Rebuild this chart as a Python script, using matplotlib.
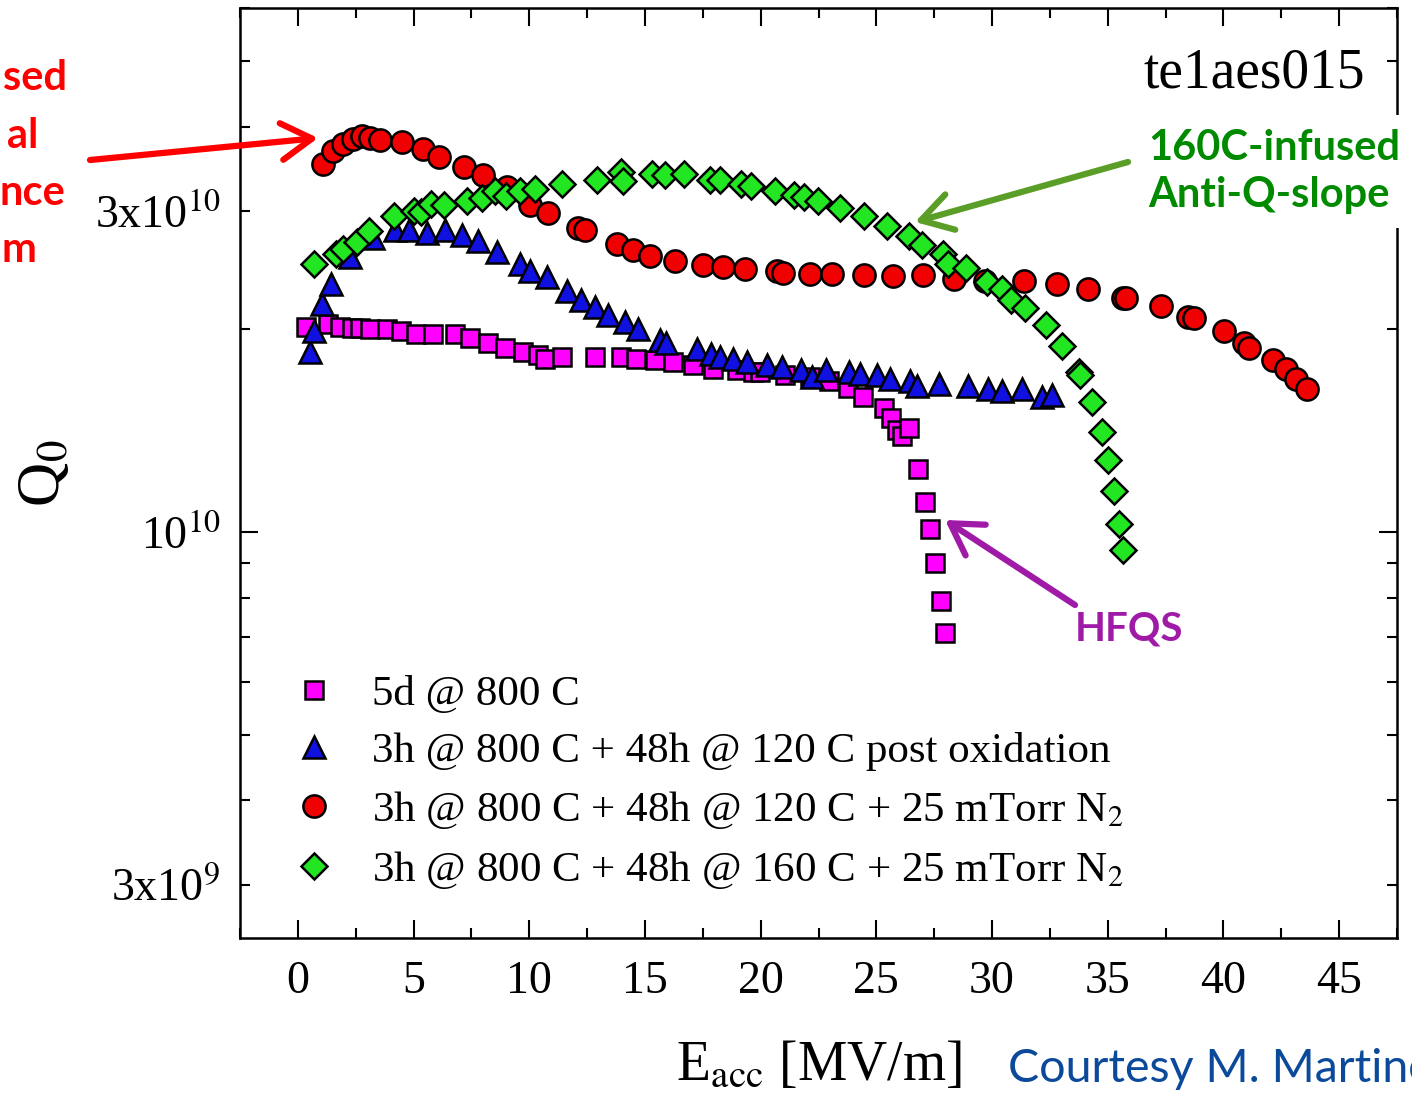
"""Q0 vs Eacc for te1aes015 after different furnace / infusion treatments."""

import matplotlib
matplotlib.use("Agg")
import matplotlib.pyplot as plt
from matplotlib.patches import FancyArrowPatch
from matplotlib.ticker import FixedLocator, FuncFormatter, LogLocator, MultipleLocator

# ---- data (Eacc in MV/m, Q0 in units of 1e10) ----
sq_e = [0.35, 1.30, 1.82, 2.34, 2.68, 3.11, 3.85, 4.46, 5.10, 5.84, 6.79, 7.44, 8.22, 8.95,
        9.73, 10.38, 10.68, 11.42, 12.85, 13.97, 14.62, 15.44, 16.22, 17.08, 17.95, 18.99,
        19.68, 19.98, 21.06, 22.15, 22.97, 23.79, 24.44, 25.35, 25.65, 25.91, 26.12, 26.43,
        26.82, 27.12, 27.34, 27.55, 27.81, 27.98]
sq_q = [2.02, 2.04, 2.02, 2.01, 2.01, 2.00, 2.00, 1.99, 1.97, 1.97, 1.97, 1.94, 1.91, 1.88,
        1.85, 1.83, 1.81, 1.82, 1.82, 1.82, 1.81, 1.80, 1.79, 1.77, 1.75, 1.74,
        1.73, 1.73, 1.71, 1.70, 1.68, 1.64, 1.59, 1.53, 1.48, 1.42, 1.39, 1.43,
        1.24, 1.11, 1.01, 0.90, 0.79, 0.71]

tri_e = [0.52, 0.69, 1.04, 1.43, 2.25, 3.24, 4.20, 4.80, 5.58, 6.36, 7.09, 7.79, 8.61, 9.60,
         10.03, 10.77, 11.63, 12.24, 12.85, 13.41, 14.14, 14.71, 15.66, 15.92, 17.26, 17.86,
         18.25, 18.81, 19.42, 20.28, 20.93, 21.76, 22.23, 22.84, 23.83, 24.31, 25.04, 25.61,
         26.47, 26.77, 27.72, 28.94, 29.84, 30.41, 31.31, 32.18, 32.57]
tri_q = [1.85, 1.99, 2.18, 2.34, 2.56, 2.73, 2.81, 2.81, 2.78, 2.81, 2.76, 2.71, 2.61, 2.50,
         2.44, 2.39, 2.28, 2.21, 2.16, 2.10, 2.05, 2.00, 1.93, 1.91, 1.87, 1.84,
         1.82, 1.81, 1.79, 1.77, 1.76, 1.74, 1.70, 1.74, 1.73, 1.72, 1.71, 1.69,
         1.68, 1.65, 1.66, 1.65, 1.63, 1.62, 1.63, 1.59, 1.60]

circ_e = [1.07, 1.53, 1.93, 2.37, 2.76, 3.11, 3.55, 4.49, 5.42, 6.11, 7.18, 8.01, 9.03, 10.03,
          10.83, 12.12, 12.41, 13.80, 14.49, 15.22, 16.31, 17.52, 18.38, 19.33, 20.72, 20.98,
          22.15, 23.10, 24.48, 25.74, 27.03, 28.37, 29.71, 31.40, 32.79, 34.13, 35.64, 35.77,
          37.29, 38.45, 38.71, 40.01, 40.87, 41.09, 42.13, 42.69, 43.12, 43.60]
circ_q = [3.52, 3.68, 3.77, 3.83, 3.87, 3.85, 3.82, 3.79, 3.70, 3.60, 3.48, 3.39, 3.26, 3.06,
          2.98, 2.83, 2.81, 2.68, 2.62, 2.57, 2.53, 2.49, 2.48, 2.46, 2.44, 2.43,
          2.42, 2.42, 2.41, 2.40, 2.41, 2.38, 2.36, 2.36, 2.34, 2.30, 2.23, 2.23,
          2.17, 2.09, 2.08, 1.99, 1.91, 1.88, 1.80, 1.75, 1.69, 1.63]

dia_e = [0.69, 1.64, 1.95, 2.55, 3.07, 4.15, 5.02, 5.32, 5.75, 6.31, 7.31, 7.96, 8.52, 9.00,
         9.60, 10.25, 11.42, 12.93, 13.97, 14.06, 15.31, 15.87, 16.70, 17.82, 18.25, 19.16,
         19.59, 20.63, 21.45, 21.89, 22.49, 23.44, 24.48, 25.48, 26.43, 26.99, 27.90, 28.11,
         28.89, 29.80, 30.45, 30.80, 31.44, 32.31, 33.04, 33.74, 33.82, 34.30, 34.73, 34.99,
         35.25, 35.47, 35.68]
dia_q = [2.50, 2.59, 2.63, 2.70, 2.80, 2.95, 3.00, 2.99, 3.07, 3.06, 3.10, 3.13, 3.21, 3.16,
         3.21, 3.23, 3.29, 3.33, 3.42, 3.32, 3.40, 3.39, 3.40, 3.33, 3.33, 3.29,
         3.27, 3.21, 3.17, 3.14, 3.10, 3.03, 2.95, 2.85, 2.75, 2.67, 2.59, 2.50,
         2.47, 2.35, 2.30, 2.21, 2.15, 2.03, 1.89, 1.73, 1.71, 1.56, 1.41, 1.28,
         1.15, 1.03, 0.94]

labels = [
    "5d @ 800 C",
    "3h @ 800 C + 48h @ 120 C post oxidation",
    "3h @ 800 C + 48h @ 120 C + 25 mTorr N$_2$",
    "3h @ 800 C + 48h @ 160 C + 25 mTorr N$_2$",
]

plt.rcParams["font.family"] = ["Liberation Serif", "DejaVu Serif"]
plt.rcParams["mathtext.fontset"] = "stix"

W, H = 1412, 1107
fig = plt.figure(figsize=(W / 100, H / 100), dpi=100)
ax = fig.add_axes([240 / W, 1 - 938 / H, (1397 - 240) / W, (938 - 8) / H])


def px(x, y):
    """pixel position -> figure fraction"""
    return x / W, 1 - y / H


style = dict(linestyle="none", markeredgecolor="black", markeredgewidth=1.8)
ax.plot(sq_e, [q * 1e10 for q in sq_q], marker="s", markersize=13.5,
        markerfacecolor="#ff00ff", label=labels[0], **style)
ax.plot(tri_e, [q * 1e10 for q in tri_q], marker="^", markersize=16,
        markerfacecolor="#1010e0", label=labels[1], **style)
ax.plot(circ_e, [q * 1e10 for q in circ_q], marker="o", markersize=16,
        markerfacecolor="#f00000", label=labels[2], **style)
ax.plot(dia_e, [q * 1e10 for q in dia_q], marker="D", markersize=13.5,
        markerfacecolor="#22e622", label=labels[3], **style)

ax.set_yscale("log")
ax.set_xlim(-2.5, 47.5)
ax.set_ylim(2.5e9, 6e10)

ax.xaxis.set_major_locator(MultipleLocator(5))
ax.xaxis.set_minor_locator(MultipleLocator(2.5))

ax.yaxis.set_major_locator(FixedLocator([1e10]))
ax.yaxis.set_major_formatter(FuncFormatter(lambda v, p: "10$^{10}$"))
ax.yaxis.set_minor_locator(LogLocator(base=10, subs=[2, 3, 4, 5, 6, 7, 8, 9]))
ytick_text = {3e9: "3x10$^{9}$", 3e10: "3x10$^{10}$"}


def minor_label(v, pos):
    for k, s in ytick_text.items():
        if abs(v / k - 1) < 1e-6:
            return s
    return ""


ax.yaxis.set_minor_formatter(FuncFormatter(minor_label))

ax.tick_params(which="both", direction="in", top=True, right=True, width=1.5,
               labelsize=33, pad=14)
ax.tick_params(which="major", length=13)
ax.tick_params(which="minor", length=7)
ax.tick_params(axis="x", which="major", pad=16)
for sp in ax.spines.values():
    sp.set_linewidth(1.8)

ax.set_xlabel("E$_{\\mathrm{acc}}$ [MV/m]", fontsize=40)
ax.xaxis.set_label_coords(0.5, -0.11)
ax.set_ylabel("Q$_0$", fontsize=44)
ax.yaxis.set_label_coords(-0.145, 0.50)

ax.text(0.972, 0.914, "te1aes015", transform=ax.transAxes, ha="right",
        va="baseline", fontsize=40)

ax.legend(loc="upper left", bbox_to_anchor=(0.049, 0.283), frameon=False,
          fontsize=31, handlelength=0.8, handletextpad=0.95, labelspacing=0.42,
          borderaxespad=0, borderpad=0)

# callouts around the plot
sans = ["Lato", "DejaVu Sans"]
red_bits = [("sed", 67, 90), ("al", 38, 148), ("nce", 65, 205), ("m", 37, 262)]
for s, xr, yb in red_bits:
    fig.text(*px(xr, yb), s, color="#ff0000", fontsize=30, fontweight="bold",
             family=sans, ha="right", va="baseline")

fig.text(*px(1148, 207), "160C-infused\nAnti-Q-slope", color="#008a00", fontsize=30,
         fontweight="bold", family=sans, ha="left", va="baseline", linespacing=1.3,
         bbox=dict(facecolor="white", edgecolor="none", pad=10))
fig.text(*px(1075, 640), "HFQS", color="#a01aa8", fontsize=29, fontweight="bold",
         family=sans, ha="left", va="baseline")
fig.text(*px(1008, 1082), "Courtesy M. Martinello", color="#0b4a9a", fontsize=33.5,
         family=sans, ha="left", va="baseline")

arrows = [((90, 160), (318, 138), "#ff0000"),
          ((1128, 162), (915, 222), "#5a9e28"),
          ((1075, 605), (945, 520), "#a01aa8")]
for a, b, c in arrows:
    fig.add_artist(FancyArrowPatch(px(*a), px(*b), transform=fig.transFigure,
                                   arrowstyle="->,head_length=1.0,head_width=0.6",
                                   mutation_scale=22, lw=4.5, color=c,
                                   shrinkA=0, shrinkB=0, zorder=5))

fig.savefig("out.png", dpi=100)
